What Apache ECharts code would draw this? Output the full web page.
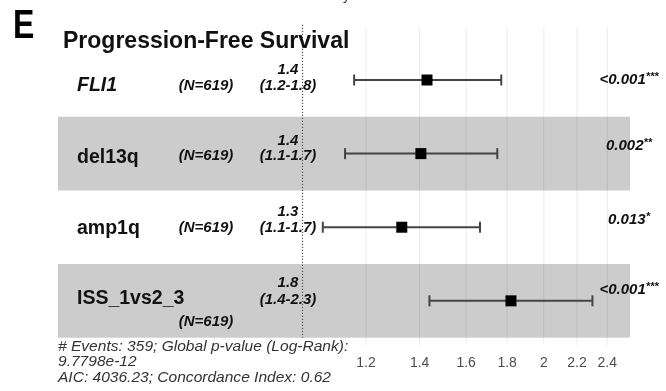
<!DOCTYPE html>
<html>
<head>
<meta charset="utf-8">
<script src="https://cdn.jsdelivr.net/npm/echarts@6/dist/echarts.min.js"></script>
<style>
  html, body { margin: 0; padding: 0; background: #fff; }
  #chart { width: 666px; height: 391px; }
</style>
</head>
<body>
<div id="chart"></div>
<script>
// forest plot data (hazard ratios)
const variables = ['FLI1', 'del13q', 'amp1q', 'ISS_1vs2_3']
const nLabels = ['(N=619)', '(N=619)', '(N=619)', '(N=619)']
const hrEst = [1.43, 1.405, 1.33, 1.82]
const ciLow = [1.16, 1.13, 1.06, 1.44]
const ciHigh = [1.77, 1.75, 1.665, 2.30]
const hrText = ['1.4', '1.4', '1.3', '1.8']
const ciText = ['(1.2-1.8)', '(1.1-1.7)', '(1.1-1.7)', '(1.4-2.3)']
const pValue = ['<0.001', '0.002', '0.013', '<0.001']
const pStars = ['***', '**', '*', '***']
const tickValues = [1.2, 1.4, 1.6, 1.8, 2, 2.2, 2.4]
const footerLines = [
  '# Events: 359; Global p-value (Log-Rank):',
  '9.7798e-12',
  'AIC: 4036.23; Concordance Index: 0.62'
]

// layout: row position on y axis, shaded rows, small per-row text shifts
const rowPos = [4, 3, 2, 1]
const shadedRows = [3, 1]
const nameShift = [6, 4, 1, -2]
const nShift = [6, 2, 1, 21]
const hrShift = [-10, -13, -15, -18]
const ciShift = [6, 2, 1, -1]
const pShift = [0, -8, -7, -11]

const xMin = -0.7024
const xMax = 0.9408
const yMin = 0.4
const yMax = 4.72

const myChart = echarts.init(document.getElementById('chart'))

let option = {
  backgroundColor: '#fff',
  animation: false,
  grid: { left: 58, right: 36, top: 27, bottom: 46 },
  xAxis: {
    type: 'value',
    min: xMin,
    max: xMax,
    axisLine: { show: false },
    axisTick: { show: false },
    splitLine: { show: false },
    axisLabel: {
      customValues: tickValues.map(v => Math.log(v)),
      formatter: v => String(Number(Math.exp(v).toFixed(1))),
      color: '#4d4d4d',
      fontSize: 14,
      fontFamily: 'Liberation Sans',
      margin: 11
    }
  },
  yAxis: { type: 'value', min: yMin, max: yMax, show: false },
  series: [
    {
      // grey bands
      type: 'custom',
      z: 1,
      silent: true,
      data: shadedRows,
      renderItem (params, api) {
        let p1 = api.coord([xMin, api.value(0) + 0.5])
        let p2 = api.coord([xMax, api.value(0) - 0.5])
        return {
          type: 'rect',
          shape: { x: p1[0], y: p1[1], width: p2[0] - p1[0], height: p2[1] - p1[1] },
          style: { fill: '#cccccc' }
        }
      }
    },
    {
      // vertical grid lines
      type: 'custom',
      z: 2,
      silent: true,
      data: tickValues.map(v => Math.log(v)),
      renderItem (params, api) {
        let top = api.coord([api.value(0), yMax])
        let bot = api.coord([api.value(0), yMin])
        return {
          type: 'line',
          shape: { x1: top[0], y1: top[1], x2: bot[0], y2: bot[1] },
          style: { stroke: 'rgba(0,0,0,0.08)', lineWidth: 1 }
        }
      }
    },
    {
      // reference line at HR = 1
      type: 'custom',
      z: 3,
      silent: true,
      data: [0],
      renderItem (params, api) {
        let top = api.coord([api.value(0), yMax + 0.03])
        let bot = api.coord([api.value(0), 0.5])
        return {
          type: 'line',
          shape: { x1: top[0], y1: top[1], x2: bot[0], y2: bot[1] },
          style: { stroke: '#555', lineWidth: 1.2, lineDash: [1.2, 1.8] }
        }
      }
    },
    {
      // confidence intervals
      type: 'custom',
      z: 4,
      silent: true,
      data: variables.map((v, i) => [Math.log(ciLow[i]), Math.log(ciHigh[i]), rowPos[i]]),
      renderItem (params, api) {
        let a = api.coord([api.value(0), api.value(2)])
        let b = api.coord([api.value(1), api.value(2)])
        let s = { stroke: '#444', lineWidth: 2 }
        return {
          type: 'group',
          children: [
            { type: 'line', shape: { x1: a[0], y1: a[1], x2: b[0], y2: b[1] }, style: s },
            { type: 'line', shape: { x1: a[0], y1: a[1] - 5.5, x2: a[0], y2: a[1] + 5.5 }, style: s },
            { type: 'line', shape: { x1: b[0], y1: b[1] - 5.5, x2: b[0], y2: b[1] + 5.5 }, style: s }
          ]
        }
      }
    },
    {
      type: 'scatter',
      z: 5,
      symbol: 'rect',
      symbolSize: 11,
      itemStyle: { color: '#000', opacity: 1 },
      data: variables.map((v, i) => [Math.log(hrEst[i]), rowPos[i]])
    }
  ]
}
myChart.setOption(option)

// text columns placed on the row positions of the y axis
const font = 'Liberation Sans'
let texts = []
texts.push({ type: 'text', x: 13, y: 27, z: 10, scaleX: 0.78,
  style: { text: 'E', font: 'bold 41px ' + font, fill: '#000', verticalAlign: 'middle' } })
texts.push({ type: 'text', x: 325, y: -4, z: 10,
  style: { text: 'Days', font: '14px ' + font, fill: '#333', verticalAlign: 'middle' } })
texts.push({ type: 'text', x: 63, y: 42, z: 10,
  style: { text: 'Progression-Free Survival', font: 'bold 23px ' + font, fill: '#111', verticalAlign: 'middle' } })

variables.forEach((name, i) => {
  let y = myChart.convertToPixel({ gridIndex: 0 }, [0, rowPos[i]])[1]
  texts.push({ type: 'text', x: 77, y: y + nameShift[i], z: 10,
    style: { text: name, font: (i === 0 ? 'italic ' : '') + 'bold 19.5px ' + font, fill: '#111', verticalAlign: 'middle' } })
  texts.push({ type: 'text', x: 206, y: y + nShift[i], z: 10,
    style: { text: nLabels[i], font: 'italic bold 15px ' + font, fill: '#111', align: 'center', verticalAlign: 'middle' } })
  texts.push({ type: 'text', x: 288, y: y + hrShift[i], z: 10,
    style: { text: hrText[i], font: 'italic bold 15px ' + font, fill: '#111', align: 'center', verticalAlign: 'middle' } })
  texts.push({ type: 'text', x: 288, y: y + ciShift[i], z: 10,
    style: { text: ciText[i], font: 'italic bold 15px ' + font, fill: '#111', align: 'center', verticalAlign: 'middle' } })
  texts.push({ type: 'text', x: 629, y: y + pShift[i], z: 10,
    style: {
      text: '{p|' + pValue[i] + '}{s|' + pStars[i] + '}',
      align: 'center',
      verticalAlign: 'middle',
      rich: {
        p: { font: 'italic bold 15px ' + font, fill: '#111', lineHeight: 17 },
        s: { font: 'italic bold 11px ' + font, fill: '#111', lineHeight: 17, verticalAlign: 'top' }
      }
    } })
})

footerLines.forEach((line, i) => {
  texts.push({ type: 'text', x: 58, y: 347 + i * 15.5, z: 10, scaleX: 1.11,
    style: { text: line, font: 'italic 14px ' + font, fill: '#333', verticalAlign: 'middle' } })
})

myChart.setOption({ graphic: texts })
</script>
</body>
</html>
